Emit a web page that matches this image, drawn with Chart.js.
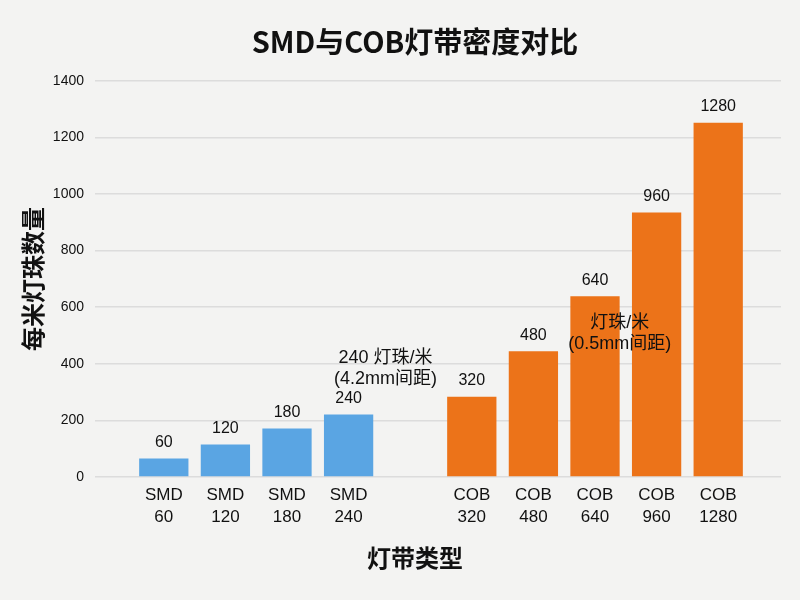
<!DOCTYPE html>
<html lang="zh-CN">
<head>
<meta charset="utf-8">
<title>SMD与COB灯带密度对比</title>
<script src="https://cdn.jsdelivr.net/npm/chart.js@4.4.1/dist/chart.umd.min.js"></script>
<style>
    html, body { margin: 0; padding: 0; background: #f3f3f2; }
    #wrap { width: 800px; height: 600px; }
</style>
</head>
<body>
<div id="wrap"><canvas id="densidadeChart"></canvas></div>
<script>
// DADOS --------------------------
const categorias = [
    ["SMD", "60"], ["SMD", "120"], ["SMD", "180"], ["SMD", "240"],
    "",
    ["COB", "320"], ["COB", "480"], ["COB", "640"], ["COB", "960"], ["COB", "1280"]
];
// altura das barras como aparecem no grafico
const alturas = [65, 115, 171, 221, null, 284, 444, 639, 935, 1252];
// texto escrito em cima de cada barra
const rotulos = ["60", "120", "180", "240", "", "320", "480", "640", "960", "1280"];
const tiposBarra = ["SMD", "SMD", "SMD", "SMD", "", "COB", "COB", "COB", "COB", "COB"];

const notasTexto = [
    ["240 灯珠/米", "(4.2mm间距)"],
    ["灯珠/米", "(0.5mm间距)"]
];
const notasCategoria = [3.6, 7.4];
const notasValor = [384, 506];

const yTicks = { min: 0, max: 1400, step: 200 };

const CORES = { SMD: "#5aa5e3", COB: "#ec7319", texto: "#111111", grade: "#dcdcdc" };
const FONTE = "'Liberation Sans', 'Noto Sans CJK SC', sans-serif";
const FONTE_CJK = "'Noto Sans CJK SC', 'Liberation Sans', sans-serif";

// rotulo em cima de cada barra
const rotulosPlugin = {
    id: "rotulos",
    afterDatasetsDraw(chart) {
        const ctx = chart.ctx;
        const meta = chart.getDatasetMeta(0);
        ctx.save();
        ctx.font = "16px " + FONTE;
        ctx.fillStyle = CORES.texto;
        ctx.textAlign = "center";
        ctx.textBaseline = "middle";
        meta.data.forEach((bar, i) => {
            if (alturas[i] === null) return;
            ctx.fillText(rotulos[i], bar.x, bar.y - 16);
        });
        ctx.restore();
    }
};

// notas de texto no meio do grafico
const notasPlugin = {
    id: "notas",
    afterDatasetsDraw(chart) {
        const ctx = chart.ctx;
        const x = chart.scales.x;
        const y = chart.scales.y;
        const linha = 21;
        ctx.save();
        ctx.font = "18px " + FONTE;
        ctx.fillStyle = CORES.texto;
        ctx.textAlign = "center";
        ctx.textBaseline = "middle";
        notasTexto.forEach((linhas, n) => {
            const px = x.getPixelForValue(notasCategoria[n]);
            const py = y.getPixelForValue(notasValor[n]);
            const inicio = py - (linhas.length - 1) * linha / 2;
            linhas.forEach((t, k) => ctx.fillText(t, px, inicio + k * linha));
        });
        ctx.restore();
    }
};

const config = {
    type: "bar",
    data: {
        labels: categorias,
        datasets: [{
            label: "每米灯珠数量",
            data: alturas,
            backgroundColor: tiposBarra.map(t => CORES[t] || "transparent"),
            borderWidth: 0,
            categoryPercentage: 1.0,
            barPercentage: 0.8
        }]
    },
    options: {
        responsive: true,
        maintainAspectRatio: false,
        animation: false,
        layout: { padding: { left: 30, right: 0, top: 0, bottom: 28 } },
        plugins: {
            legend: { display: false },
            tooltip: { enabled: false },
            title: {
                display: true,
                text: "SMD与COB灯带密度对比",
                color: CORES.texto,
                font: { family: FONTE_CJK, size: 29, weight: "bold", lineHeight: 1.2 },
                padding: { top: 25, bottom: 21 }
            },
            subtitle: {
                display: true,
                position: "bottom",
                text: "灯带类型",
                color: CORES.texto,
                font: { family: FONTE_CJK, size: 24, weight: "bold", lineHeight: 1.2 },
                padding: { top: 8, bottom: 0 }
            }
        },
        scales: {
            x: {
                grid: { display: false, drawTicks: false },
                border: { display: false },
                ticks: {
                    color: CORES.texto,
                    font: { family: FONTE, size: 17, lineHeight: 1.3 },
                    padding: 7,
                    maxRotation: 0,
                    autoSkip: false
                }
            },
            y: {
                min: yTicks.min,
                max: yTicks.max,
                grid: { color: CORES.grade, lineWidth: 1.5, drawTicks: true, tickLength: 38 },
                border: { display: false },
                ticks: {
                    stepSize: yTicks.step,
                    color: CORES.texto,
                    font: { family: FONTE, size: 14 },
                    padding: 11,
                    callback: (value) => String(value)
                },
                title: {
                    display: true,
                    text: "每米灯珠数量",
                    color: CORES.texto,
                    font: { family: FONTE_CJK, size: 24, weight: "bold", lineHeight: 1.2 },
                    padding: { top: -12, bottom: 0 }
                },
                afterFit: (scale) => { scale.width = 103; }
            },
            y2: {
                position: "right",
                min: yTicks.min,
                max: yTicks.max,
                grid: { color: CORES.grade, lineWidth: 1.5, drawOnChartArea: false, drawTicks: true, tickLength: 32 },
                border: { display: false },
                ticks: { stepSize: yTicks.step, display: false },
                afterFit: (scale) => { scale.width = 51; }
            }
        }
    },
    plugins: [rotulosPlugin, notasPlugin]
};

document.addEventListener("DOMContentLoaded", () => {
    const ctx = document.getElementById("densidadeChart").getContext("2d");
    new Chart(ctx, config);
});
</script>
</body>
</html>
